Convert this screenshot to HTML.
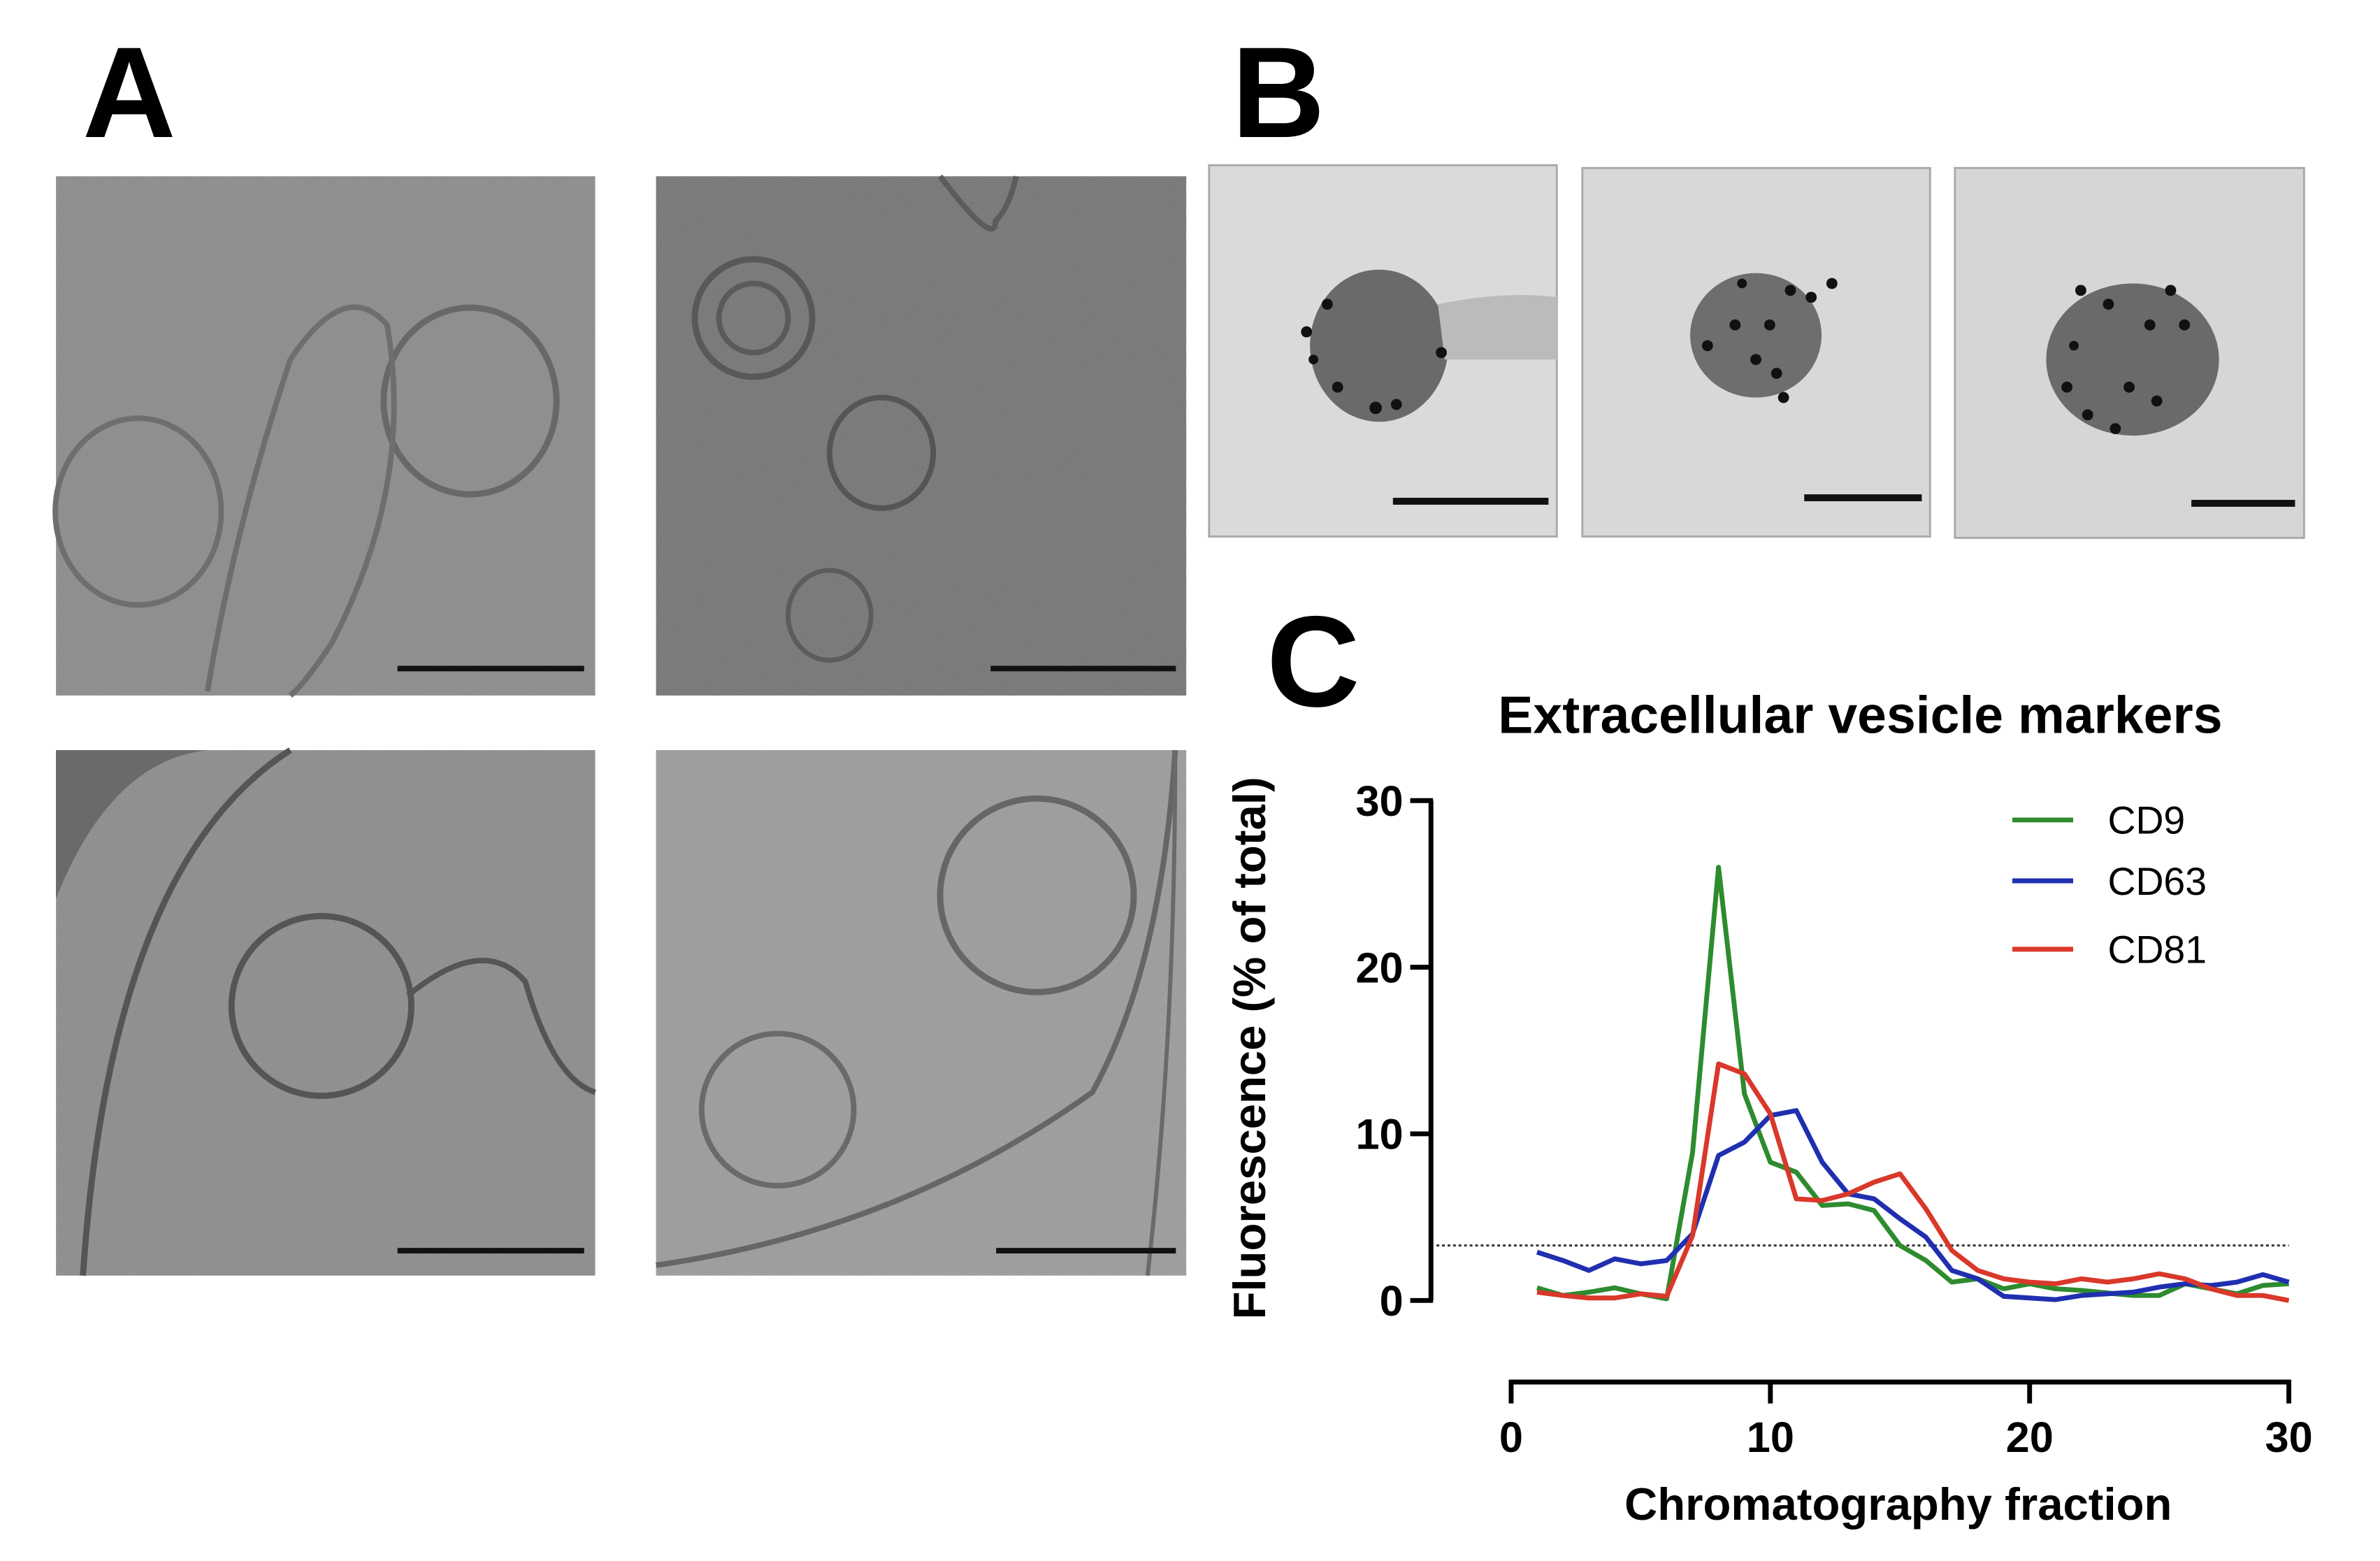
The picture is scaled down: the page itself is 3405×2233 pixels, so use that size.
<!DOCTYPE html>
<html><head><meta charset="utf-8"><style>
html,body{margin:0;padding:0;background:#fff;}
svg{display:block;}
text{font-family:"Liberation Sans",sans-serif;}
</style></head><body>
<svg id="fig" width="3405" height="2233" viewBox="0 0 3405 2233" xmlns="http://www.w3.org/2000/svg">
<defs>
<filter id="noise" x="0" y="0" width="100%" height="100%"><feTurbulence type="fractalNoise" baseFrequency="0.6" numOctaves="2" seed="3"/><feColorMatrix type="matrix" values="0 0 0 0 0.5 0 0 0 0 0.5 0 0 0 0 0.5 0 0 0 0.25 0"/><feComposite in2="SourceGraphic" operator="in"/></filter>
</defs>
<text x="118" y="196" font-size="185" font-weight="bold">A</text>
<text x="1762" y="196" font-size="185" font-weight="bold">B</text>
<text x="1812" y="1010" font-size="185" font-weight="bold">C</text>
<g transform="scale(0.989)">
<g>
<rect x="81" y="255" width="780" height="751" fill="#898989"/><rect x="81" y="255" width="780" height="751" fill="#888" filter="url(#noise)"/>
<ellipse cx="200" cy="740" rx="120" ry="135" fill="none" stroke="#6e6e6e" stroke-width="8"/>
<ellipse cx="680" cy="580" rx="125" ry="135" fill="none" stroke="#686868" stroke-width="9"/>
<path d="M300 1000 Q340 760 420 520 Q500 400 560 470 Q600 700 480 930 Q440 990 420 1006" fill="none" stroke="#6e6e6e" stroke-width="8"/>
<rect x="575" y="963" width="270" height="8" fill="#111"/>
</g>
<g>
<rect x="949" y="255" width="767" height="751" fill="#727272"/><rect x="949" y="255" width="767" height="751" fill="#777" filter="url(#noise)"/>
<circle cx="1090" cy="460" r="85" fill="none" stroke="#585858" stroke-width="9"/>
<circle cx="1090" cy="460" r="50" fill="none" stroke="#5a5a5a" stroke-width="8"/>
<ellipse cx="1275" cy="655" rx="75" ry="80" fill="none" stroke="#555" stroke-width="8"/>
<ellipse cx="1200" cy="890" rx="60" ry="65" fill="none" stroke="#5c5c5c" stroke-width="7"/>
<path d="M1360 255 Q1440 360 1440 320 Q1460 300 1470 255" fill="none" stroke="#5c5c5c" stroke-width="8"/>
<rect x="1433" y="963" width="268" height="8" fill="#111"/>
</g>
<g>
<rect x="81" y="1085" width="780" height="760" fill="#8a8a8a"/><rect x="81" y="1085" width="780" height="760" fill="#888" filter="url(#noise)"/>
<path d="M81 1300 Q160 1100 300 1085 L81 1085Z" fill="#6a6a6a"/>
<path d="M420 1085 Q160 1250 120 1845" fill="none" stroke="#555" stroke-width="9"/>
<circle cx="465" cy="1455" r="130" fill="none" stroke="#555" stroke-width="9"/>
<path d="M590 1440 Q700 1350 760 1420 Q800 1560 861 1580" fill="none" stroke="#555" stroke-width="8"/>
<rect x="575" y="1805" width="270" height="8" fill="#111"/>
</g>
<g>
<rect x="949" y="1085" width="767" height="760" fill="#9a9a9a"/><rect x="949" y="1085" width="767" height="760" fill="#999" filter="url(#noise)"/>
<circle cx="1500" cy="1295" r="140" fill="none" stroke="#666" stroke-width="9"/>
<circle cx="1125" cy="1605" r="110" fill="none" stroke="#6a6a6a" stroke-width="8"/>
<path d="M949 1830 Q1300 1780 1580 1580 Q1680 1400 1700 1085" fill="none" stroke="#666" stroke-width="8"/>
<path d="M1660 1845 Q1700 1500 1700 1085" fill="none" stroke="#6a6a6a" stroke-width="6"/>
<rect x="1441" y="1805" width="260" height="8" fill="#111"/>
</g>

<g>
<rect x="1749" y="239" width="503" height="537" fill="#dadada" stroke="#aaa" stroke-width="3"/>
<ellipse cx="1995" cy="500" rx="100" ry="110" fill="#6a6a6a"/>
<path d="M2080 440 Q2180 420 2252 430 L2252 520 Q2160 520 2090 520Z" fill="#bbb"/>
<g fill="#111"><circle cx="1890" cy="480" r="8"/><circle cx="1920" cy="440" r="8"/><circle cx="1935" cy="560" r="8"/><circle cx="1990" cy="590" r="9"/><circle cx="2020" cy="585" r="8"/><circle cx="2085" cy="510" r="8"/><circle cx="1900" cy="520" r="7"/></g>
<rect x="2015" y="720" width="225" height="10" fill="#111"/>
</g>
<g>
<rect x="2289" y="243" width="503" height="533" fill="#d8d8d8" stroke="#aaa" stroke-width="3"/>
<ellipse cx="2540" cy="485" rx="95" ry="90" fill="#6e6e6e"/>
<g fill="#111"><circle cx="2470" cy="500" r="8"/><circle cx="2510" cy="470" r="8"/><circle cx="2540" cy="520" r="8"/><circle cx="2570" cy="540" r="8"/><circle cx="2590" cy="420" r="8"/><circle cx="2560" cy="470" r="8"/><circle cx="2620" cy="430" r="8"/><circle cx="2650" cy="410" r="8"/><circle cx="2520" cy="410" r="7"/><circle cx="2580" cy="575" r="8"/></g>
<rect x="2610" y="715" width="170" height="10" fill="#111"/>
</g>
<g>
<rect x="2828" y="243" width="505" height="535" fill="#d6d6d6" stroke="#aaa" stroke-width="3"/>
<ellipse cx="3085" cy="520" rx="125" ry="110" fill="#6a6a6a"/>
<g fill="#111"><circle cx="3010" cy="420" r="8"/><circle cx="3050" cy="440" r="8"/><circle cx="3110" cy="470" r="8"/><circle cx="3160" cy="470" r="8"/><circle cx="2990" cy="560" r="8"/><circle cx="3020" cy="600" r="8"/><circle cx="3080" cy="560" r="8"/><circle cx="3120" cy="580" r="8"/><circle cx="3140" cy="420" r="8"/><circle cx="3000" cy="500" r="7"/><circle cx="3060" cy="620" r="8"/></g>
<rect x="3170" y="723" width="150" height="10" fill="#111"/>
</g>

<g id="chart">
<text x="2691" y="1060" font-size="76" font-weight="bold" text-anchor="middle">Extracellular vesicle markers</text>
<text transform="translate(1830,1516) rotate(-90)" font-size="66" font-weight="bold" text-anchor="middle">Fluorescence (% of total)</text>
<text x="2746" y="2198" font-size="66" font-weight="bold" text-anchor="middle">Chromatography fraction</text>
<g id="axes"></g>
<g id="series"></g>
<g id="legend"></g>
</g>
</g>
</svg>
<script>
const fractions=[1,2,3,4,5,6,7,8,9,10,11,12,13,14,15,16,17,18,19,20,21,22,23,24,25,26,27,28,29,30];
const cd9=[0.76,0.3,0.5,0.76,0.4,0.1,8.9,26,12.4,8.3,7.7,5.7,5.8,5.4,3.3,2.4,1.1,1.3,0.7,1.0,0.7,0.6,0.45,0.3,0.3,1.0,0.7,0.4,0.9,1.0];
const cd63=[2.9,2.4,1.8,2.5,2.2,2.4,4.0,8.7,9.5,11.1,11.4,8.3,6.4,6.1,4.9,3.8,1.8,1.3,0.25,0.15,0.05,0.3,0.4,0.5,0.8,1.0,0.9,1.1,1.55,1.1];
const cd81=[0.5,0.3,0.15,0.15,0.4,0.25,3.9,14.2,13.6,11.2,6.1,6.0,6.4,7.1,7.6,5.5,3.0,1.8,1.3,1.1,1.0,1.3,1.1,1.3,1.6,1.3,0.7,0.3,0.3,0.0];
const yTicks=[0,10,20,30];
const xTicks=[0,10,20,30];
const threshold=3.3;
const seriesNames=["CD9","CD63","CD81"];
const seriesColors=["#2e8b2e","#1f2fb0","#d9382a"];

const NS="http://www.w3.org/2000/svg";
const X=v=>2186+(3311-2186)*v/30;
const Y=v=>1881-(1881-1158)*v/30;
function mk(parent,tag,attrs){const e=document.createElementNS(NS,tag);for(const k in attrs)e.setAttribute(k,attrs[k]);parent.appendChild(e);return e;}
const axes=document.getElementById('axes');
let yl=mk(axes,'line',{x1:2070,y1:Y(30),x2:2070,y2:Y(0),stroke:'#000','stroke-width':7});


yTicks.forEach(t=>{
 let l=mk(axes,'line',{x1:2040,y1:Y(t),x2:2073,y2:Y(t),stroke:'#000','stroke-width':7});
 
 
 let tx=mk(axes,'text',{x:2030,y:Y(t)+22,'font-size':62,'font-weight':'bold','text-anchor':'end'});
 tx.textContent=t;
 
 
});
let xl=mk(axes,'line',{x1:X(0)-3,y1:1999,x2:X(30)+3,y2:1999,stroke:'#000','stroke-width':7});


xTicks.forEach(t=>{
 let l=mk(axes,'line',{x1:X(t),y1:1996,x2:X(t),y2:2030,stroke:'#000','stroke-width':7});
 
 
 let tx=mk(axes,'text',{x:X(t),y:2100,'font-size':62,'font-weight':'bold','text-anchor':'middle'});
 tx.textContent=t;
 
 
});
let th=mk(axes,'line',{x1:2078,y1:Y(threshold),x2:X(30),y2:Y(threshold),stroke:'#333','stroke-width':3,'stroke-dasharray':'4 4'});


const ser=document.getElementById('series');
[cd9,cd63,cd81].forEach((vals,i)=>{
 const pts=vals.map((v,j)=>X(fractions[j]).toFixed(1)+','+Y(v).toFixed(1)).join(' ');
 let p=mk(ser,'polyline',{points:pts,fill:'none',stroke:seriesColors[i],'stroke-width':7,'stroke-linejoin':'round'});
 
 
});
const lg=document.getElementById('legend');
const ly=[1186,1274,1373];
seriesNames.forEach((n,i)=>{
 let l=mk(lg,'line',{x1:2911,y1:ly[i],x2:2999,y2:ly[i],stroke:seriesColors[i],'stroke-width':7});
 
 
 let t=mk(lg,'text',{x:3049,y:ly[i]+20,'font-size':56});
 t.textContent=n;
 
 
});
</script>
</body></html>
